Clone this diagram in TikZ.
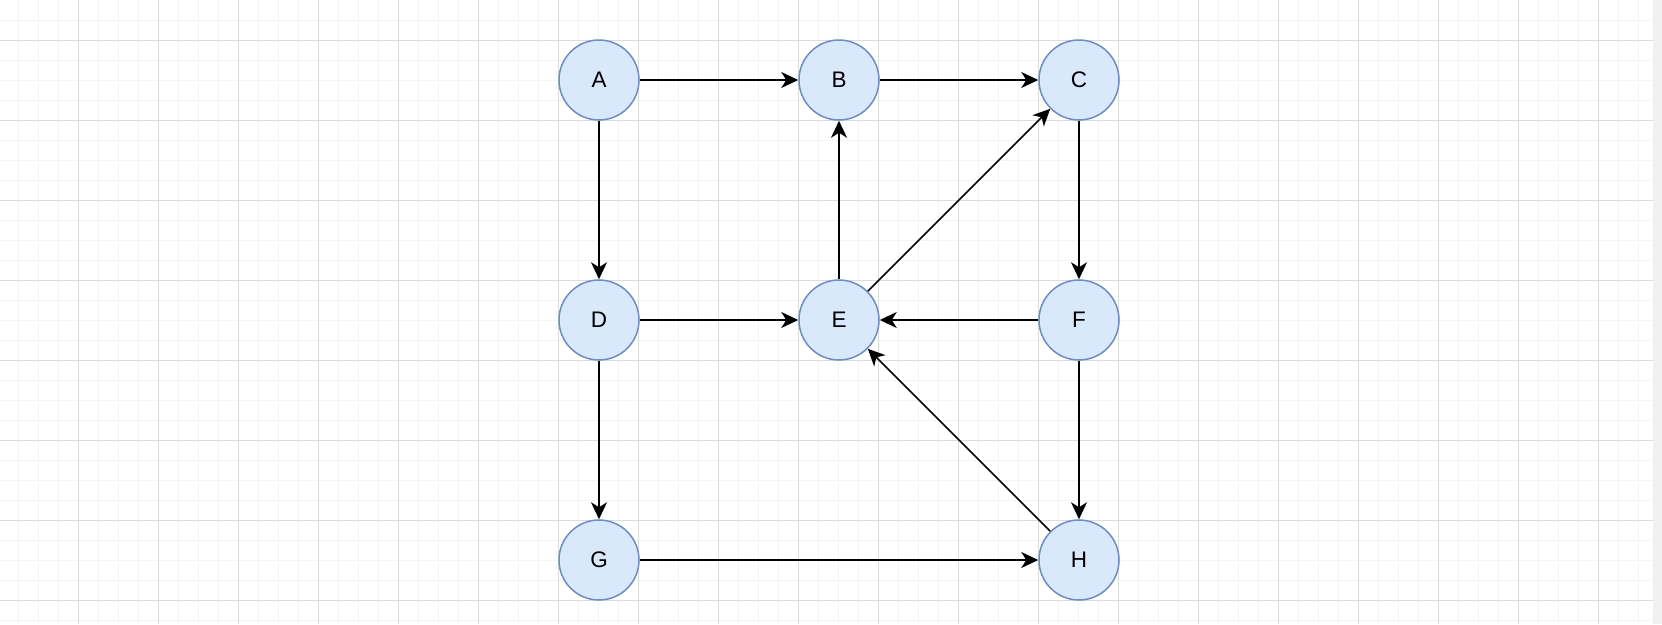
\documentclass[tikz,border=0pt]{standalone}
\usepackage{fontspec}
\setmainfont{Liberation Sans}
\usetikzlibrary{arrows.meta}
\definecolor{nodefill}{HTML}{DAE8FC}
\definecolor{nodeline}{HTML}{6C8EBF}
\definecolor{gridmajor}{HTML}{DCDCDC}
\definecolor{gridminor}{HTML}{F4F4F4}
\definecolor{sidebar}{HTML}{F0F0F0}
\tikzset{
  vertex/.style={circle, draw=nodeline, fill=nodefill, line width=1.5pt,
    minimum size=80pt, inner sep=0pt, font=\fontsize{22.5}{26}\selectfont},
  link/.style={line width=1.5pt, -{Stealth[length=17pt, width=16pt, inset=5pt]}},
}
\begin{document}
\begin{tikzpicture}[x=1pt, y=-1pt]
  % canvas and page grid
  \fill[white] (0,0) rectangle (1662,624);
  \useasboundingbox (0,0) rectangle (1662,624);
  \foreach \x in {18,38,...,1650} \draw[gridminor, line width=1pt] (\x,0) -- (\x,624);
  \foreach \y in {20,40,...,620} \draw[gridminor, line width=1pt] (0,\y) -- (1653,\y);
  \foreach \x in {78,158,...,1650} \draw[gridmajor, line width=1pt] (\x,0) -- (\x,624);
  \foreach \y in {40,120,...,620} \draw[gridmajor, line width=1pt] (0,\y) -- (1653,\y);
  \fill[sidebar] (1653,0) rectangle (1662,624);

  % vertices
  \node[vertex] (A) at (599,80) {A};
  \node[vertex] (B) at (839,80) {B};
  \node[vertex] (C) at (1079,80) {C};
  \node[vertex] (D) at (599,320) {D};
  \node[vertex] (E) at (839,320) {E};
  \node[vertex] (F) at (1079,320) {F};
  \node[vertex] (G) at (599,560) {G};
  \node[vertex] (H) at (1079,560) {H};

  % directed edges
  \draw[link] (A) -- (B);
  \draw[link] (B) -- (C);
  \draw[link] (A) -- (D);
  \draw[link] (C) -- (F);
  \draw[link] (D) -- (E);
  \draw[link] (F) -- (E);
  \draw[link] (E) -- (B);
  \draw[link] (E) -- (C);
  \draw[link] (D) -- (G);
  \draw[link] (F) -- (H);
  \draw[link] (G) -- (H);
  \draw[link] (H) -- (E);
\end{tikzpicture}
\end{document}
